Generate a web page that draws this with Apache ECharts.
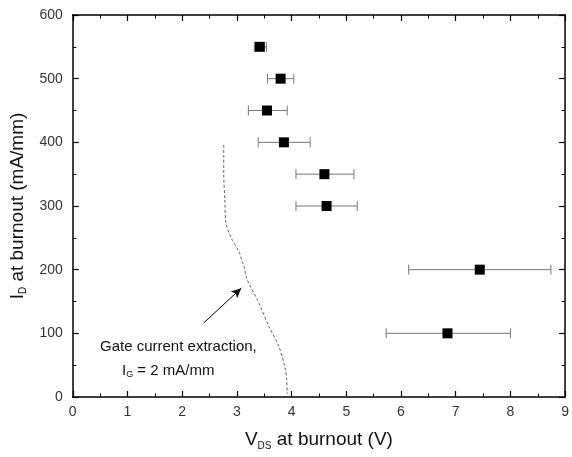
<!DOCTYPE html>
<html><head><meta charset="utf-8">
<script src="https://cdn.jsdelivr.net/npm/echarts@6/dist/echarts.min.js"></script>
<style>html,body{margin:0;padding:0;background:#fff}#c{width:572px;height:457px}</style>
</head><body><div id="c"></div>
<script>
const xTicks = [0,1,2,3,4,5,6,7,8,9];
const yTicks = [0,100,200,300,400,500,600];
const vds = [3.42, 3.80, 3.55, 3.86, 4.60, 4.64, 7.44, 6.85];
const idv = [550, 500, 450, 400, 350, 300, 200, 100];
const vdsLow = [3.32, 3.56, 3.21, 3.39, 4.08, 4.08, 6.14, 5.73];
const vdsHigh = [3.54, 4.04, 3.92, 4.34, 5.14, 5.20, 8.74, 8.00];
const curveV = [2.76,2.76,2.76,2.78,2.80,2.87,2.92,3.04,3.07,3.09,3.13,3.16,3.22,3.38,3.59,3.77,3.89,3.91,3.92];
const curveI = [396,380,351,310,273,255,246,228,220,214,206,192,178,152,110,79,42,27,5];
const arrowFrom = [2.39,116];
const arrowTo = [3.08,171];
const note1 = 'Gate current extraction,';

const font = 'Arial, "Liberation Sans", sans-serif';
const points = vds.map((v,i)=>[v, idv[i]]);
const bars = vds.map((v,i)=>[v, idv[i], vdsLow[i], vdsHigh[i]]);
const curve = curveV.map((v,i)=>[v, curveI[i]]);

const axisCommon = {
  axisLine:{show:true,onZero:false,lineStyle:{color:'#000',width:1.5}},
  axisTick:{show:true,inside:true,length:6,lineStyle:{color:'#000',width:1.2}},
  minorTick:{show:true,splitNumber:2,length:3.5,lineStyle:{color:'#000',width:1}},
  splitLine:{show:false}
};
const chart = echarts.init(document.getElementById('c'));
chart.setOption({
  animation:false,
  backgroundColor:'#fff',
  grid:{left:72,right:3,top:15,bottom:60},
  xAxis:[
    Object.assign({type:'value',min:xTicks[0],max:xTicks[xTicks.length-1],interval:1,position:'bottom',
      axisLabel:{color:'#333',fontSize:14,fontFamily:font,margin:8},
      name:'{a|V}{s|DS}{a| at burnout (V)}',nameLocation:'middle',nameGap:32,
      nameTextStyle:{rich:{a:{fontSize:19,fontFamily:font,color:'#111'},s:{fontSize:10,fontFamily:font,color:'#111',padding:[12,0,0,0]}}}
    },axisCommon),
    Object.assign({type:'value',min:0,max:9,interval:1,position:'top',axisLabel:{show:false}},axisCommon)
  ],
  yAxis:[
    Object.assign({type:'value',min:yTicks[0],max:yTicks[yTicks.length-1],interval:100,position:'left',
      axisLabel:{color:'#333',fontSize:14,fontFamily:font,margin:10},
      name:'{a|I}{s|D}{a| at burnout (mA/mm)}',nameLocation:'middle',nameGap:32,nameRotate:90,
      nameTextStyle:{rich:{a:{fontSize:19,fontFamily:font,color:'#111'},s:{fontSize:10,fontFamily:font,color:'#111',padding:[12,0,0,0]}}}
    },axisCommon),
    Object.assign({type:'value',min:0,max:600,interval:100,position:'right',axisLabel:{show:false}},axisCommon)
  ],
  series:[
    {type:'line',data:curve,showSymbol:false,symbol:'none',smooth:0.3,
      lineStyle:{color:'#666',width:1,type:[3,2]},
      markLine:{silent:true,symbol:['none','arrow'],symbolSize:[7,10],
        lineStyle:{color:'#000',width:1,type:'solid'},label:{show:false},
        data:[[{coord:arrowFrom},{coord:arrowTo}]]}
    },
    {type:'custom',data:bars,z:3,
      renderItem:function(params,api){
        const y=api.value(1);
        const p1=api.coord([api.value(2),y]), p2=api.coord([api.value(3),y]);
        const h=5, st={stroke:'#777',lineWidth:1};
        return {type:'group',children:[
          {type:'line',shape:{x1:p1[0],y1:p1[1],x2:p2[0],y2:p2[1]},style:st},
          {type:'line',shape:{x1:p1[0],y1:p1[1]-h,x2:p1[0],y2:p1[1]+h},style:st},
          {type:'line',shape:{x1:p2[0],y1:p2[1]-h,x2:p2[0],y2:p2[1]+h},style:st}
        ]};
      }
    },
    {type:'scatter',data:points,symbol:'rect',symbolSize:10,z:5,itemStyle:{color:'#000',opacity:1}}
  ],
  graphic:[
    {type:'text',left:100,top:339,style:{text:note1,fontSize:15,fontFamily:font,fill:'#111'}},
    {type:'text',left:122,top:363,style:{rich:{a:{fontSize:15,fontFamily:font,fill:'#111'},s:{fontSize:9,fontFamily:font,fill:'#111',padding:[9,0,0,0]}},text:'{a|I}{s|G}{a| = 2 mA/mm}'}}
  ]
});
</script></body></html>
